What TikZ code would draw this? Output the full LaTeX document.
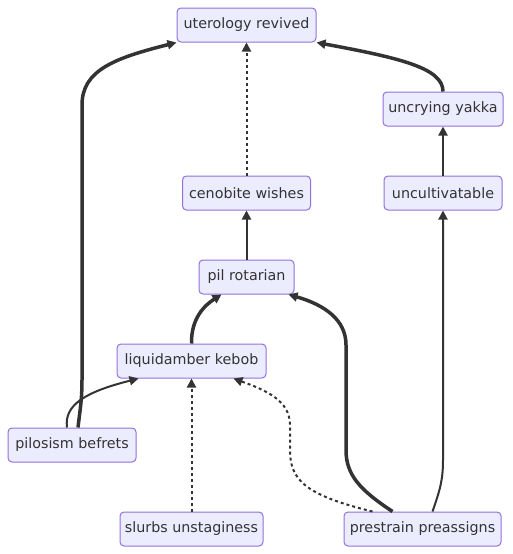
\documentclass[tikz,border=0pt]{standalone}
\usepackage{fontspec}
\setmainfont{DejaVu Sans}
\usetikzlibrary{arrows.meta}
\definecolor{nodefill}{HTML}{ECECFF}
\definecolor{nodeline}{HTML}{9370DB}
\definecolor{edgeline}{HTML}{333333}

\begin{document}
\begin{tikzpicture}[x=1pt, y=-1pt,
  box/.style={draw=nodeline, fill=nodefill, line width=1pt, rounded corners=4pt,
    minimum height=34pt, inner xsep=0pt, text=edgeline, font=\fontsize{14.3}{16}\selectfont},
  edge/.style={draw=edgeline, line width=2pt, -{Triangle[length=9pt,width=9pt]}},
  heavy/.style={edge, line width=3.5pt},
  dots/.style={edge, dash pattern=on 3pt off 3pt}]
  \useasboundingbox (0,0) rectangle (512,554);
  % nodes
  \node[box, minimum width=139pt] (ur) at (246.5,25) {uterology revived};
  \node[box, minimum width=120pt] (uy) at (443,109) {uncrying yakka};
  \node[box, minimum width=128pt] (cw) at (246.5,193) {cenobite wishes};
  \node[box, minimum width=118pt] (uc) at (443,193) {uncultivatable};
  \node[box, minimum width=95pt] (pr) at (246.5,277) {pil rotarian};
  \node[box, minimum width=149pt] (lk) at (191.5,361) {liquidamber kebob};
  \node[box, minimum width=128pt] (pb) at (72,445) {pilosism befrets};
  \node[box, minimum width=143pt] (su) at (191.5,529) {slurbs unstaginess};
  \node[box, minimum width=157pt] (pp) at (422.5,529) {prestrain preassigns};
  % edges
  \draw[heavy] ([xshift=6]pb.north) .. controls (80,410) and (82,400) .. (82,380)
    -- (82,105) .. controls (82,70) and (115,58) .. (ur.south west);
  \draw[edge] ([xshift=-5]pb.north) .. controls (64,405) and (85,392) .. ([xshift=-53]lk.south);
  \draw[dots] (su.north) -- (lk.south);
  \draw[dots] ([xshift=-50]pp.north) .. controls (305,495) and (290,480) .. (290,450)
    -- (290,425) .. controls (290,400) and (265,390) .. ([xshift=42]lk.south);
  \draw[heavy] ([xshift=-30]pp.north) .. controls (360,490) and (346,475) .. (346,450)
    -- (346,345) .. controls (346,320) and (325,305) .. ([xshift=42]pr.south);
  \draw[edge] ([xshift=10]pp.north) .. controls (440,490) and (443,480) .. (443,460)
    -- (uc.south);
  \draw[heavy] (lk.north) .. controls (191,318) and (205,305) .. ([xshift=-25]pr.south);
  \draw[edge] (pr.north) -- (cw.south);
  \draw[dots] (cw.north) -- (ur.south);
  \draw[edge] (uc.north) -- (uy.south);
  \draw[heavy] (uy.north) .. controls (443,68) and (400,58) .. (ur.south east);
\end{tikzpicture}
\end{document}
